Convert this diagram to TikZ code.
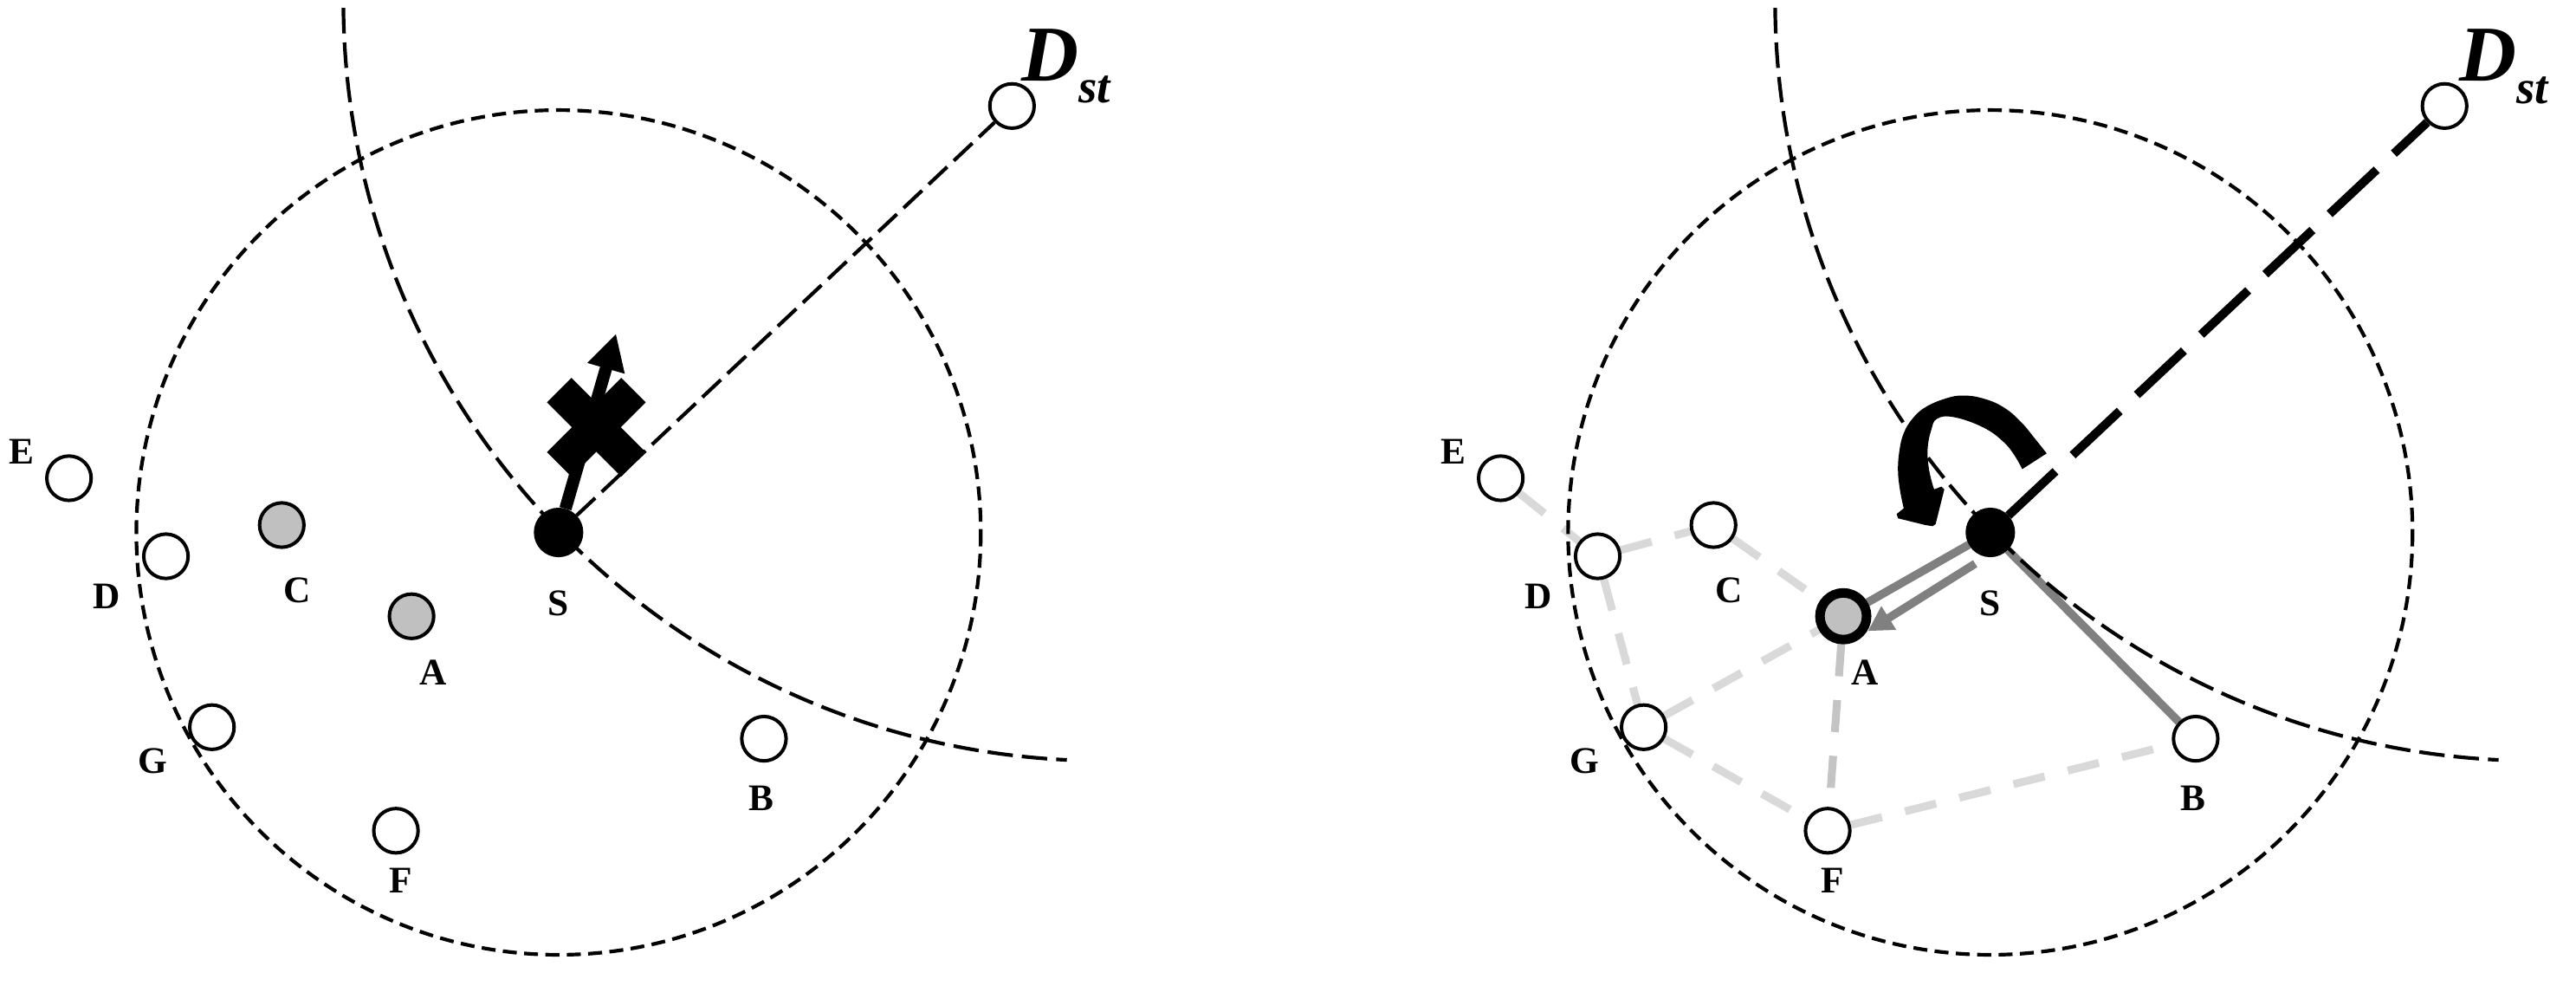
\documentclass[tikz,border=0pt]{standalone}
\usepackage{fontspec}
\setmainfont{Liberation Serif}
\usetikzlibrary{arrows.meta,calc,backgrounds}
\definecolor{grayfill}{HTML}{C0C0C0}
\definecolor{linegray}{HTML}{808080}
\definecolor{lightline}{HTML}{D9D9D9}
\definecolor{midline}{HTML}{C4C4C4}
\tikzset{
  pt/.style={circle,draw,line width=0.021cm,minimum size=0.27cm,inner sep=0pt,fill=white},
  ptgray/.style={pt,fill=grayfill},
  ptsrc/.style={pt,fill=black,minimum size=0.28cm},
  ptsel/.style={pt,fill=grayfill,line width=0.058cm,minimum size=0.284cm},
  lbl/.style={inner sep=0pt,font=\fontsize{6.5}{7}\selectfont\bfseries},
  dstlbl/.style={inner sep=0pt,anchor=base west,font=\fontsize{13.7}{15}\selectfont\bfseries\itshape},
  circdash/.style={line width=0.022cm,dash pattern=on 0.085cm off 0.045cm},
  arcdash/.style={line width=0.022cm,dash pattern=on 0.155cm off 0.055cm},
  thickdash/.style={line width=0.053cm,dash pattern=on 0.393cm off 0.143cm},
  ltdash/.style={lightline,line width=0.048cm,dash pattern=on 0.195cm off 0.145cm},
  mddash/.style={midline,line width=0.048cm,dash pattern=on 0.195cm off 0.145cm},
  solidgray/.style={linegray,line width=0.05cm},
}
\newcommand{\stfont}{\fontsize{8.2}{9}\selectfont}
\begin{document}
\begin{tikzpicture}[x=0.01cm,y=-0.01cm]
\useasboundingbox (0,0) rectangle (1568,600);
% ---------- left panel nodes ----------
\node[ptsrc] (lS) at (340,324) {};
\node[pt] (lE) at (42,291) {};
\node[pt] (lD) at (101,338.5) {};
\node[ptgray] (lC) at (171.5,319.5) {};
\node[ptgray] (lA) at (250.5,375) {};
\node[pt] (lG) at (129,442.5) {};
\node[pt] (lF) at (241,505.5) {};
\node[pt] (lB) at (465,449.5) {};
\node[pt] (lT) at (616,64.5) {};
\coordinate (lArcC) at (672,0);
\node[lbl] (lEl) at (13,275) {E};
\node[lbl] (lDl) at (65,363) {D};
\node[lbl] (lCl) at (181,359) {C};
\node[lbl] (lAl) at (263.5,409) {A};
\node[lbl] (lSl) at (340,367) {S};
\node[lbl] (lGl) at (93,463) {G};
\node[lbl] (lFl) at (244,536) {F};
\node[lbl] (lBl) at (463.5,486) {B};
\node[dstlbl] (lTl) at (621,49.2) {D\raisebox{-0.132cm}{\stfont st}};
% ---------- right panel nodes ----------
\begin{scope}[shift={(871.5,0)}]
\node[ptsrc] (rS) at (340,324) {};
\node[pt] (rE) at (42,291) {};
\node[pt] (rD) at (101,338.5) {};
\node[pt] (rC) at (171.5,319.5) {};
\node[ptsel] (rA) at (250.5,375) {};
\node[pt] (rG) at (129,442.5) {};
\node[pt] (rF) at (241,505.5) {};
\node[pt] (rB) at (465,449.5) {};
\node[pt] (rT) at (616.5,64.5) {};
\coordinate (rArcC) at (672,0);
\node[lbl] (rEl) at (13,275) {E};
\node[lbl] (rDl) at (65,363) {D};
\node[lbl] (rCl) at (181,359) {C};
\node[lbl] (rAl) at (263.5,409) {A};
\node[lbl] (rSl) at (340,367) {S};
\node[lbl] (rGl) at (93,463) {G};
\node[lbl] (rFl) at (244,536) {F};
\node[lbl] (rBl) at (463.5,486) {B};
\node[dstlbl] (rTl) at (625,49.2) {D\raisebox{-0.14cm}{\stfont st}};
\end{scope}
% ---------- background lines ----------
\begin{scope}[on background layer]
\fill[white] (0,0) rectangle (1568,600);
\draw[ltdash] (rE) -- (rD);
\draw[ltdash] (rD) -- (rC);
\draw[ltdash] (rC) -- (rA);
\draw[ltdash] (rD) -- (rG);
\draw[ltdash] (rG) -- (rA);
\draw[ltdash] (rG) -- (rF);
\draw[ltdash] (rF) -- (rB);
\draw[mddash] (rA) -- (rF);
\draw[solidgray] (rS) -- (rA);
\draw[solidgray] (rS) -- (rB);
\draw[circdash] (lS.center) circle[radius=257];
\draw[circdash] (rS.center) circle[radius=257];
\draw[arcdash] ($(lArcC)+(182:463)$) arc[start angle=182,end angle=92.8,radius=463];
\draw[arcdash] ($(rArcC)+(182:463)$) arc[start angle=182,end angle=92.8,radius=463];
\end{scope}
% ---------- left panel connectors ----------
\draw[arcdash] (lS) -- (lT);
\begin{scope}[shift={(363,260)},rotate=45]
\fill (-32,-10.5) -- (32,-10.5) -- (32,10.5) -- (-32,10.5) -- cycle;
\fill (-10.5,-32) -- (10.5,-32) -- (10.5,32) -- (-10.5,32) -- cycle;
\end{scope}
\draw[line width=0.075cm,-{Triangle[length=0.22cm,width=0.22cm]}] (lS) -- ($(lS.center)+(35,-121)$);
% ---------- right panel connectors ----------
\draw[thickdash] (rS) -- (rT);
\draw[solidgray,-{Triangle[length=0.15cm,width=0.16cm]}] ($(rS.center)+(-9.2,19)$) -- ($(rA.center)+(15,9)$);
\fill plot[smooth,tension=0.7] coordinates {(1245.8,275.9) (1238.8,267.1) (1230.0,256.6) (1219.5,247.8) (1207.2,242.5) (1194.9,240.7) (1184.3,242.5) (1172.0,247.8) (1164.1,254.8) (1158.8,263.6) (1156.2,274.1) (1155.3,286.4) (1156.6,298.7) (1158.8,309.3)}
  -- (1154.5,312.8) -- (1155.3,315.4) -- (1172.0,319.5) -- (1176.4,320.2) -- (1178.2,318.9) -- (1183.5,297.8) -- (1181.7,296.1) -- (1177.3,297.8)
  -- plot[smooth,tension=0.7] coordinates {(1177.3,297.8) (1175.5,291.7) (1173.8,282.9) (1173.4,272.4) (1175.5,261.8) (1179.1,254.8) (1189.6,253.9) (1207.2,260.1) (1219.5,268.9) (1226.5,277.6) (1230.9,285.5)} -- cycle;
\end{tikzpicture}
\end{document}
